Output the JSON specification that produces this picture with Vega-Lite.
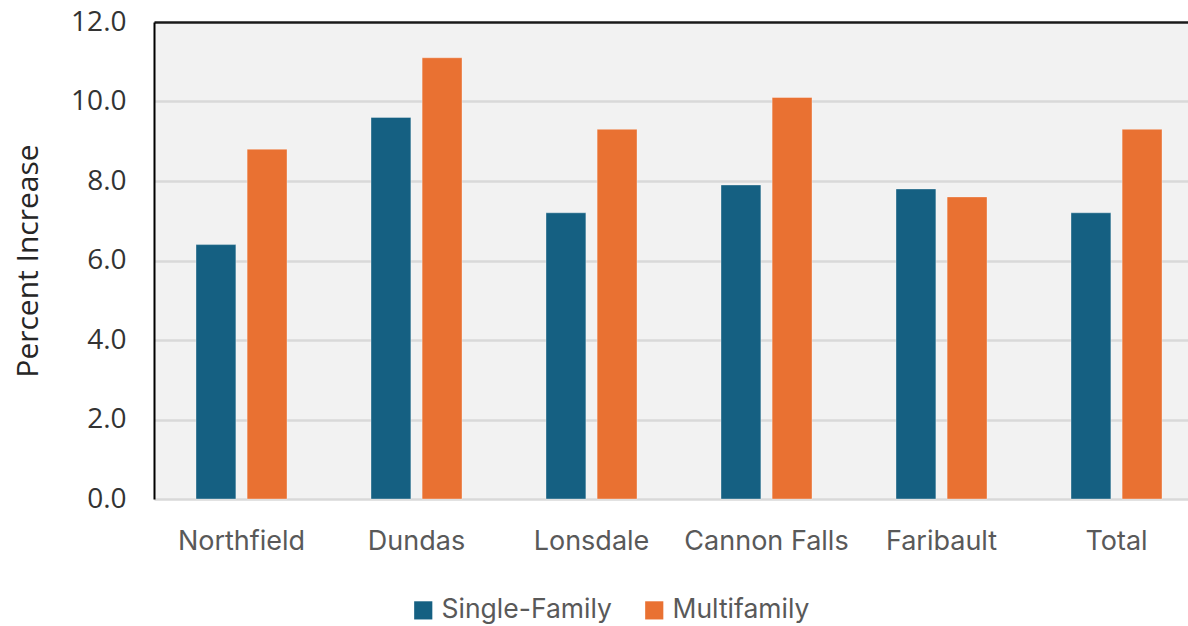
{
  "$schema": "https://vega.github.io/schema/vega-lite/v6.json",
  "width": 1034,
  "height": 477,
  "autosize": {"type": "none"},
  "padding": {"left": 154, "top": 22, "right": 0, "bottom": 127},
  "background": "#ffffff",
  "data": {
    "values": [
      {"city": "Northfield", "type": "Single-Family", "pct": 6.4},
      {"city": "Northfield", "type": "Multifamily", "pct": 8.8},
      {"city": "Dundas", "type": "Single-Family", "pct": 9.6},
      {"city": "Dundas", "type": "Multifamily", "pct": 11.1},
      {"city": "Lonsdale", "type": "Single-Family", "pct": 7.2},
      {"city": "Lonsdale", "type": "Multifamily", "pct": 9.3},
      {"city": "Cannon Falls", "type": "Single-Family", "pct": 7.9},
      {"city": "Cannon Falls", "type": "Multifamily", "pct": 10.1},
      {"city": "Faribault", "type": "Single-Family", "pct": 7.8},
      {"city": "Faribault", "type": "Multifamily", "pct": 7.6},
      {"city": "Total", "type": "Single-Family", "pct": 7.2},
      {"city": "Total", "type": "Multifamily", "pct": 9.3}
    ]
  },
  "config": {
    "view": {"fill": "#f2f2f2", "stroke": null}
  },
  "mark": {"type": "bar", "stroke": "#ffffff", "strokeOpacity": 0.35, "strokeWidth": 1},
  "encoding": {
    "x": {
      "field": "city",
      "type": "nominal",
      "sort": null,
      "scale": {"range": [0, 1050], "paddingInner": 0.48, "paddingOuter": 0.24},
      "axis": {
        "title": null,
        "labelAngle": 0,
        "domain": false,
        "ticks": false,
        "labelFont": "Inter",
        "labelFontSize": 27,
        "labelColor": "#595959",
        "labelPadding": 29
      }
    },
    "xOffset": {
      "field": "type",
      "type": "nominal",
      "sort": ["Single-Family", "Multifamily"],
      "scale": {"paddingInner": 0.22, "paddingOuter": 0}
    },
    "y": {
      "field": "pct",
      "type": "quantitative",
      "scale": {"domain": [0, 12], "nice": false},
      "axis": {
        "title": "Percent Increase",
        "titleFont": "Open Sans",
        "titleFontSize": 30,
        "titleFontWeight": "normal",
        "titleColor": "#262626",
        "titlePadding": 27,
        "values": [0, 2, 4, 6, 8, 10, 12],
        "format": ".1f",
        "labelFont": "Open Sans",
        "labelFontSize": 28,
        "labelColor": "#333333",
        "labelPadding": 28,
        "ticks": false,
        "domain": true,
        "domainColor": "#000000",
        "domainWidth": 2,
        "grid": true,
        "gridWidth": 2.5,
        "gridColor": {"condition": {"test": "datum.value == 12", "value": "#1a1a1a"}, "value": "#d9d9d9"}
      }
    },
    "color": {
      "field": "type",
      "type": "nominal",
      "sort": ["Single-Family", "Multifamily"],
      "scale": {"domain": ["Single-Family", "Multifamily"], "range": ["#156082", "#E97132"]},
      "legend": {
        "title": null,
        "orient": "none",
        "direction": "horizontal",
        "legendX": 256,
        "legendY": 575,
        "symbolType": "square",
        "symbolSize": 330,
        "symbolStrokeWidth": 0,
        "labelFont": "Inter",
        "labelFontSize": 26.5,
        "labelColor": "#595959",
        "labelOffset": 5,
        "labelLimit": 400,
        "columnPadding": 29
      }
    }
  }
}
